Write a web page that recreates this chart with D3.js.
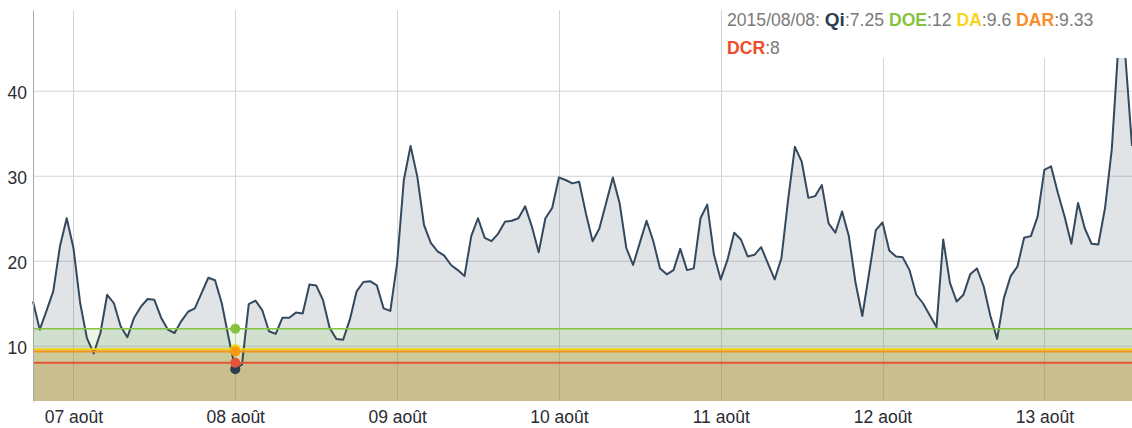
<!DOCTYPE html>
<html>
<head>
<meta charset="utf-8">
<script src="https://cdn.jsdelivr.net/npm/d3@7"></script>
<style>
  body { margin: 0; background: #fff; }
  svg { display: block; font-family: "Liberation Sans", Arial, sans-serif; }
</style>
</head>
<body>
<div id="chart"></div>
<script>
// hourly Qi values, first one is 2015-08-06 18:00
var startTime = Date.UTC(2015, 7, 6, 18);
var qiValues = [
    15.2, 11.9, 14.1, 16.4, 21.7, 25.0,
    21.5, 15.0, 10.9, 9.1, 11.5, 16.0, 15.0, 12.3, 11.0, 13.3, 14.6, 15.5,
    15.4, 13.3, 11.9, 11.5, 12.9, 14.0, 14.4, 16.2, 18.0, 17.7, 15.0, 11.0,
    7.25, 7.8, 14.9, 15.3, 14.2, 11.7, 11.4, 13.3, 13.3, 13.9, 13.8, 17.2,
    17.1, 15.4, 12.1, 10.8, 10.7, 13.1, 16.4, 17.5, 17.6, 17.1, 14.4, 14.1,
    19.7, 29.5, 33.5, 29.9, 24.2, 22.1, 21.1, 20.6, 19.5, 18.9, 18.2, 22.9,
    25.0, 22.7, 22.3, 23.2, 24.6, 24.7, 25.0, 26.4, 24.0, 21.0, 25.0, 26.2,
    29.8, 29.5, 29.1, 29.3, 25.6, 22.3, 23.8, 26.8, 29.8, 26.8, 21.5, 19.5,
    22.1, 24.7, 22.3, 19.1, 18.4, 18.9, 21.4, 18.9, 19.1, 25.0, 26.6, 20.7,
    17.8, 20.1, 23.3, 22.5, 20.5, 20.7, 21.6, 19.7, 17.8, 20.3, 27.2, 33.4,
    31.7, 27.4, 27.6, 28.9, 24.4, 23.3, 25.8, 22.9, 17.4, 13.5, 18.5, 23.6,
    24.5, 21.2, 20.5, 20.4, 18.9, 16.0, 15.0, 13.6, 12.2, 22.5, 17.4, 15.2,
    16.0, 18.4, 19.1, 17.0, 13.5, 10.8, 15.6, 18.2, 19.3, 22.7, 22.9, 25.2,
    30.7, 31.1, 28.0, 25.2, 22.0, 26.8, 23.8, 22.0, 21.9, 26.2, 33.1, 45.6,
    44.2, 33.5
];

// thresholds
var thresholdNames = ["DOE", "DA", "DAR", "DCR"];
var thresholdValues = [12, 9.6, 9.33, 8];

var yTicks = [10, 20, 30, 40];
var selectedDate = "2015/08/08";
var selectedQi = 7.25;
var selectedTime = Date.UTC(2015, 7, 8, 0);

var lineColors = { DOE: "#86c440", DA: "#f5d312", DAR: "#f39322", DCR: "#e5533a" };
var fillColors = { DOE: "rgba(122,193,66,0.15)", DA: "rgba(190,170,20,0.2)", DAR: "rgba(200,130,40,0.12)", DCR: "rgba(190,90,60,0.1)" };
var legendColors = { DOE: "#86c440", DA: "#f7d51d", DAR: "#fb8c2a", DCR: "#f04a26" };

var data = qiValues.map(function (v, i) {
    return { date: new Date(startTime + i * 3600 * 1000), value: v };
});

var width = 1132, height = 428;
var margin = { top: 10, right: 0, bottom: 27, left: 33 };

var fr = d3.timeFormatLocale({
    dateTime: "%A %e %B %Y à %X", date: "%d/%m/%Y", time: "%H:%M:%S", periods: ["AM", "PM"],
    days: ["dimanche", "lundi", "mardi", "mercredi", "jeudi", "vendredi", "samedi"],
    shortDays: ["dim.", "lun.", "mar.", "mer.", "jeu.", "ven.", "sam."],
    months: ["janvier", "février", "mars", "avril", "mai", "juin", "juillet", "août", "septembre", "octobre", "novembre", "décembre"],
    shortMonths: ["janv.", "févr.", "mars", "avr.", "mai", "juin", "juil.", "août", "sept.", "oct.", "nov.", "déc."]
});

var x = d3.scaleUtc()
    .domain(d3.extent(data, function (d) { return d.date; }))
    .range([margin.left, width - margin.right]);

var y = d3.scaleLinear()
    .domain([3.5, 49.5])
    .range([height - margin.bottom, margin.top]);

var svg = d3.select("#chart").append("svg")
    .attr("width", width)
    .attr("height", height);

// grid
svg.append("g").selectAll("line.h")
    .data(yTicks)
    .enter().append("line")
    .attr("x1", margin.left).attr("x2", width - margin.right)
    .attr("y1", function (d) { return y(d) + 0.5; })
    .attr("y2", function (d) { return y(d) + 0.5; })
    .style("stroke", "#d4d4d4");

var days = d3.utcDay.range(d3.utcDay.ceil(x.domain()[0]), x.domain()[1]);
svg.append("g").selectAll("line.v")
    .data(days)
    .enter().append("line")
    .attr("x1", function (d) { return Math.round(x(d)) + 0.5; })
    .attr("x2", function (d) { return Math.round(x(d)) + 0.5; })
    .attr("y1", margin.top).attr("y2", height - margin.bottom)
    .style("stroke", "#d4d4d4");

// Qi area
var area = d3.area()
    .x(function (d) { return x(d.date); })
    .y0(y.range()[0])
    .y1(function (d) { return y(d.value); });

svg.append("path")
    .datum(data)
    .attr("d", area)
    .style("fill", "#34495e")
    .style("fill-opacity", 0.15);

// threshold bands
thresholdNames.forEach(function (name, i) {
    svg.append("rect")
        .attr("x", margin.left)
        .attr("y", y(thresholdValues[i]))
        .attr("width", width - margin.right - margin.left)
        .attr("height", y.range()[0] - y(thresholdValues[i]))
        .style("fill", fillColors[name]);
});

var line = d3.line()
    .x(function (d) { return x(d.date); })
    .y(function (d) { return y(d.value); });

svg.append("path")
    .datum(data)
    .attr("d", line)
    .style("fill", "none")
    .style("stroke", "#34495e")
    .style("stroke-width", 2)
    .style("stroke-linejoin", "round");

thresholdNames.forEach(function (name, i) {
    svg.append("line")
        .attr("x1", margin.left).attr("x2", width - margin.right)
        .attr("y1", y(thresholdValues[i])).attr("y2", y(thresholdValues[i]))
        .style("stroke", lineColors[name])
        .style("stroke-width", name == "DOE" ? 1.5 : 2);
});

// y axis
var yAxis = svg.append("g")
    .attr("transform", "translate(" + margin.left + ",0)")
    .call(d3.axisLeft(y).tickValues(yTicks).tickSize(0).tickPadding(6));
yAxis.select(".domain").style("stroke", "#a8a8a8");
yAxis.selectAll("text")
    .attr("dy", "0.45em")
    .style("font-size", "17.5px")
    .style("font-family", "Liberation Sans, Arial, sans-serif")
    .style("fill", "#2b2b33");

// x axis
var xAxis = svg.append("g")
    .attr("transform", "translate(0," + (height - margin.bottom) + ")")
    .call(d3.axisBottom(x).ticks(d3.utcDay.every(1)).tickFormat(fr.utcFormat("%d %B")).tickSize(0).tickPadding(10));
xAxis.select(".domain").remove();
xAxis.selectAll("text")
    .style("font-size", "17.5px")
    .style("font-family", "Liberation Sans, Arial, sans-serif")
    .style("fill", "#2b2b33");

// markers on selected day
var dots = [{ name: "Qi", value: selectedQi, color: "#2c3e50" }];
thresholdNames.forEach(function (name, i) {
    dots.push({ name: name, value: thresholdValues[i], color: lineColors[name] });
});
svg.selectAll(".dot")
    .data(dots)
    .enter().append("circle")
    .attr("class", "dot")
    .attr("cx", x(new Date(selectedTime)))
    .attr("cy", function (d) { return y(d.value); })
    .attr("r", 5)
    .style("fill", function (d) { return d.name == "DAR" ? "#f7990c" : d.color; });

// legend box
svg.append("rect")
    .attr("x", 723).attr("y", 0)
    .attr("width", width - 723).attr("height", 58)
    .style("fill", "#fff");

var legend = svg.append("text")
    .attr("x", 727).attr("y", 26)
    .style("font-size", "17.6px")
    .style("fill", "#7a7a7a");
legend.append("tspan").text(selectedDate + ": ");
legend.append("tspan").text("Qi").style("font-weight", "bold").style("font-size", "19px").style("fill", "#2c3e50");
legend.append("tspan").text(":" + selectedQi + " ");
thresholdNames.forEach(function (name, i) {
    if (name == "DCR") return;
    legend.append("tspan").text(name).style("fill", legendColors[name]).style("font-weight", "bold");
    legend.append("tspan").text(":" + thresholdValues[i] + " ");
});

var legend2 = svg.append("text")
    .attr("x", 727).attr("y", 54)
    .style("font-size", "17.6px")
    .style("fill", "#7a7a7a");
legend2.append("tspan").text("DCR").style("fill", legendColors.DCR).style("font-weight", "bold");
legend2.append("tspan").text(":" + thresholdValues[3]);
</script>
</body>
</html>
